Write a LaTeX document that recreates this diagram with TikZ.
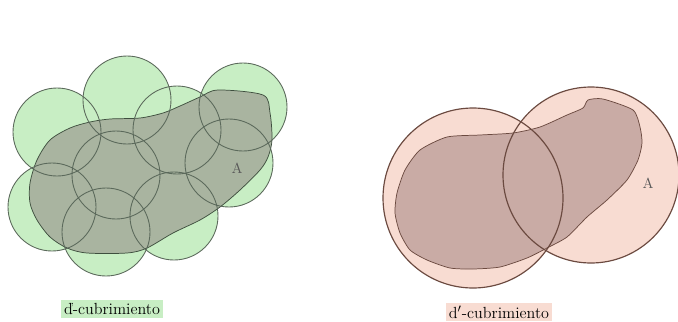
\documentclass[tikz,border=0pt]{standalone}
\usepackage{fontspec}
\usepackage{tikz}
\usetikzlibrary{positioning}
\definecolor{leafbg}{HTML}{C8EEC4}
\definecolor{leafln}{HTML}{3E4E3E}
\definecolor{moss}{HTML}{A9B4A0}
\definecolor{blush}{HTML}{F8DCD2}
\definecolor{cocoa}{HTML}{6B4A40}
\definecolor{mauve}{HTML}{C9ABA5}
\tikzset{
  ballg/.style={fill=leafbg},
  balll/.style={draw=leafln!85,line width=0.6pt},
  ballp/.style={fill=blush},
  ballb/.style={draw=cocoa,line width=0.8pt},
  setg/.style={fill=moss,draw=leafln,line width=0.5pt},
  setp/.style={fill=mauve,draw=cocoa,line width=0.5pt},
  tagg/.style={fill=leafbg,inner sep=2pt,font=\fontsize{11}{13}\selectfont},
  tagp/.style={fill=blush,inner sep=2pt,font=\fontsize{11}{13}\selectfont},
  lblA/.style={font=\normalsize\color{black!65}},
}
\begin{document}
\begin{tikzpicture}[x=0.024cm,y=-0.024cm]
\useasboundingbox (0,0) rectangle (678,321);
% left: many small balls
\foreach \cx/\cy in {57/132,127/100,177/130,243/107,116/175,229/163,52/207,106/232,174/216}
  \fill[ballg] (\cx,\cy) circle (44);
\draw[setg] plot[smooth cycle,tension=0.5] coordinates {(218,90) (263,95) (270,113) (272,140) (268,157) (260,170) (240,190) (220,207) (200,220) (173,233) (147,248) (127,253) (87,253) (67,248) (50,237) (37,220) (30,203) (30,183) (37,160) (50,140) (70,128) (90,122) (110,119) (140,118) (163,113) (180,106) (200,97)};
\foreach \cx/\cy in {57/132,127/100,177/130,243/107,116/175,229/163,52/207,106/232,174/216}
  \draw[balll] (\cx,\cy) circle (44);
\node[lblA] (Al) at (237,168) {A};
\node[tagg] (tl) at (112,309) {ď-cubrimiento};
% right: two big balls
\fill[ballp] (473,198) circle (90);
\fill[ballp] (591,175) circle (88);
\draw[setp] plot[smooth cycle,tension=0.4] coordinates {(588,100) (603,99) (633,110) (640,127) (642,143) (638,160) (627,180) (607,200) (587,217) (567,237) (547,248) (527,258) (500,267) (473,269) (450,268) (427,260) (410,250) (400,233) (395,213) (397,193) (405,170) (420,150) (447,137) (480,135) (513,133) (540,127) (567,115) (583,108)};
\draw[ballb] (473,198) circle (90);
\draw[ballb] (591,175) circle (88);
\node[lblA] (Ar) at (648,183) {A};
\node[tagp] (tr) at (499,312) {d$'$-cubrimiento};
\end{tikzpicture}
\end{document}
